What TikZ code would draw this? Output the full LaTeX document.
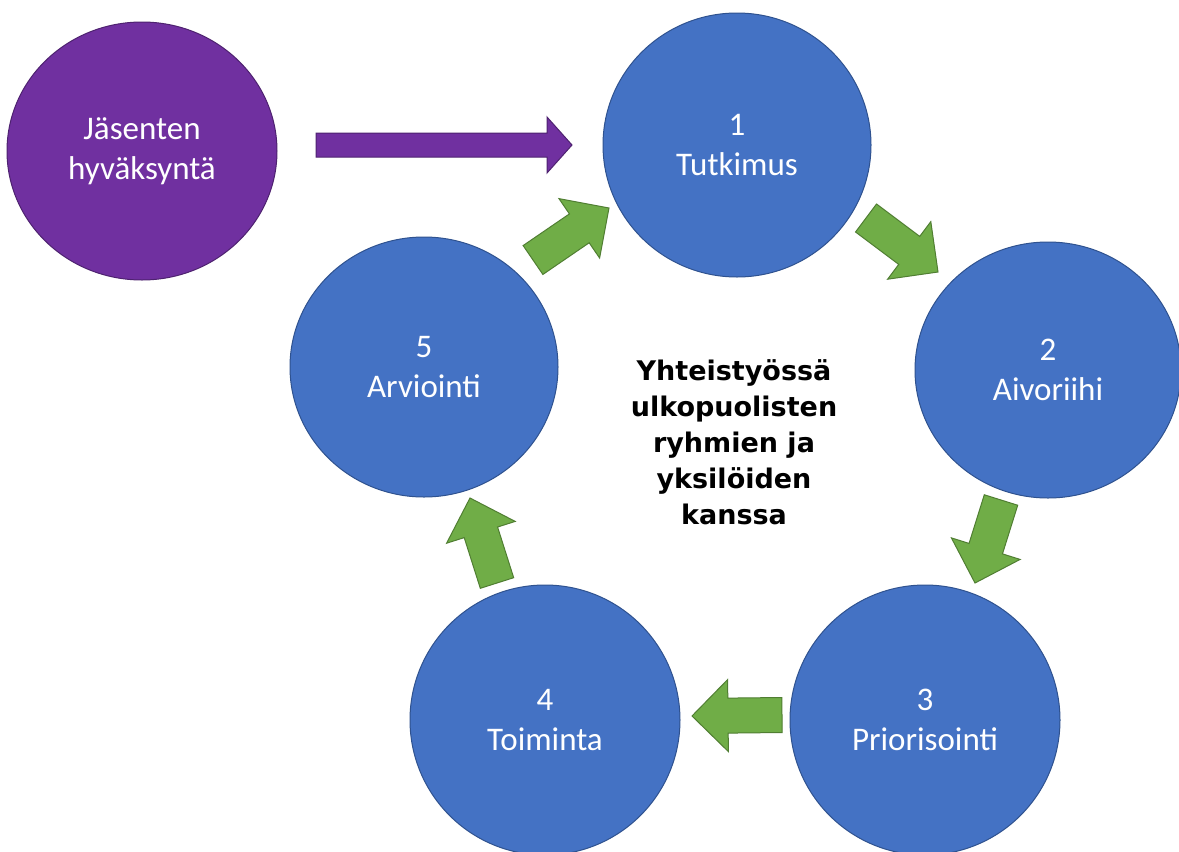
\documentclass[tikz,border=0pt]{standalone}
\usepackage{fontspec}
\setmainfont{Carlito}
\newfontfamily\centerfont{DejaVu Sans}
\usetikzlibrary{calc,shapes.geometric}
\definecolor{cblue}{HTML}{4472C4}
\definecolor{cblueD}{HTML}{2F528F}
\definecolor{cgreen}{HTML}{70AD47}
\definecolor{cgreenD}{HTML}{507E32}
\definecolor{cpurple}{HTML}{7030A0}
\definecolor{cpurpleD}{HTML}{4E2270}
% #1 style, #2 tail, #3 tip, #4 shaft half width, #5 head half width, #6 head length
\newcommand\blockarrow[6]{%
  \coordinate (#2#3h) at ($(#3)!#6!(#2)$);
  \draw[#1] ($(#2)!#4!90:(#3)$) -- ($(#2#3h)!#4!90:(#3)$) -- ($(#2#3h)!#5!90:(#3)$)
    -- (#3) -- ($(#2#3h)!#5!-90:(#3)$) -- ($(#2#3h)!#4!-90:(#3)$)
    -- ($(#2)!#4!-90:(#3)$) -- cycle;}
\begin{document}
\begin{tikzpicture}[x=1pt,y=-1pt,
  stage/.style={ellipse, fill=cblue, draw=cblueD, line width=1pt, text=white,
    align=center, inner sep=0pt, font=\fontsize{33}{39.5}\selectfont},
  start/.style={stage, fill=cpurple, draw=cpurpleD},
  greenarrow/.style={fill=cgreen, draw=cgreenD, line width=1pt, line join=miter},
  purplearrow/.style={fill=cpurple, draw=cpurpleD, line width=1pt, line join=miter},
  centretext/.style={align=center, text=black, inner sep=0pt,
    font=\centerfont\bfseries\fontsize{27}{36}\selectfont}]
\useasboundingbox (0,0) rectangle (1179,852);
\clip (0,0) rectangle (1179,852);
\fill[white] (0,0) rectangle (1179,852);

\node[start, minimum width=270, minimum height=258] (p) at (142,151) {Jäsenten\\hyväksyntä};
\node[stage, minimum width=268, minimum height=264] (s1) at (737,145) {1\\Tutkimus};
\node[stage, minimum width=266, minimum height=256] (s2) at (1048,370) {2\\Aivoriihi};
\node[stage, minimum width=270, minimum height=270] (s3) at (925,720) {3\\Priorisointi};
\node[stage, minimum width=270, minimum height=270] (s4) at (545,720) {4\\Toiminta};
\node[stage, minimum width=268, minimum height=260] (s5) at (424,367) {5\\Arviointi};

\node[centretext] (c) at (734,442) {Yhteistyössä\\ulkopuolisten\\ryhmien ja\\yksilöiden\\kanssa};

\coordinate (pt) at (316,145);  \coordinate (pe) at (572,145);
\coordinate (t12) at (866,218); \coordinate (e12) at (938,272);
\coordinate (t23) at (1001,500);\coordinate (e23) at (975,583);
\coordinate (t34) at (782,715); \coordinate (e34) at (692,716);
\coordinate (t45) at (497,583); \coordinate (e45) at (470,498);
\coordinate (t51) at (533,260); \coordinate (e51) at (609,208);

\blockarrow{purplearrow}{pt}{pe}{12pt}{28pt}{25pt}
\blockarrow{greenarrow}{t12}{e12}{17.5pt}{36pt}{36pt}
\blockarrow{greenarrow}{t23}{e23}{17.5pt}{36pt}{36pt}
\blockarrow{greenarrow}{t34}{e34}{17.5pt}{36pt}{36pt}
\blockarrow{greenarrow}{t45}{e45}{17.5pt}{36pt}{36pt}
\blockarrow{greenarrow}{t51}{e51}{17.5pt}{36pt}{36pt}
\end{tikzpicture}
\end{document}
